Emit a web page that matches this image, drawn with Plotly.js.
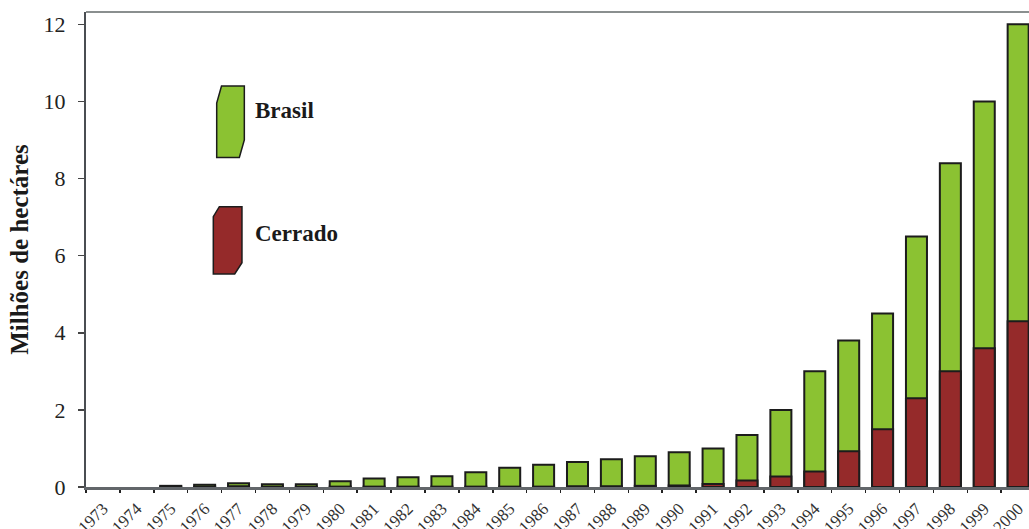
<!DOCTYPE html>
<html>
<head>
<meta charset="utf-8">
<script src="https://cdn.plot.ly/plotly-3.0.1.min.js"></script>
<style>html,body{margin:0;padding:0;background:#fff;}#chart{width:1029px;height:529px;}</style>
</head>
<body>
<div id="chart"></div>
<script>
const years = ['1973','1974','1975','1976','1977','1978','1979','1980','1981','1982','1983','1984','1985','1986','1987','1988','1989','1990','1991','1992','1993','1994','1995','1996','1997','1998','1999','2000'];
const brasil = [null, null, 0.03, 0.06, 0.1, 0.07, 0.07, 0.15, 0.22, 0.25, 0.28, 0.38, 0.5, 0.58, 0.65, 0.72, 0.8, 0.9, 1.0, 1.35, 2.0, 3.0, 3.8, 4.5, 6.5, 8.4, 10.0, 12.0];
const cerrado = [null, null, 0.01, 0.01, 0.02, 0.01, 0.01, 0.01, 0.01, 0.01, 0.01, 0.01, 0.01, 0.01, 0.02, 0.02, 0.03, 0.04, 0.08, 0.17, 0.27, 0.4, 0.93, 1.5, 2.3, 3.0, 3.6, 4.3];
const seriesNames = ['Brasil', 'Cerrado'];
const yTickVals = [0, 2, 4, 6, 8, 10, 12];
const yTitle = 'Milhões de hectáres';

const SERIF = "'Liberation Serif', 'Times New Roman', Times, serif";
const GREEN = '#8bc232', RED = '#952a2a', EDGE = '#1c1c1c';
const W = 1029, H = 529, ML = 86, MR = 0, MT = 12, MB = 42;
const pw = W - ML - MR, ph = H - MT - MB;
const px = x => ((x - ML) / pw).toFixed(4);
const py = y => ((H - MB - y) / ph).toFixed(4);
function poly(pts) {
  return 'M' + pts.map(p => px(p[0]) + ',' + py(p[1])).join(' L') + ' Z';
}

const traces = [
  {type: 'bar', x: years, y: brasil, name: seriesNames[0], width: 0.62,
   marker: {color: GREEN, line: {color: EDGE, width: 2}}},
  {type: 'bar', x: years, y: cerrado, name: seriesNames[1], width: 0.62,
   marker: {color: RED, line: {color: EDGE, width: 2}}}
];

const shapes = [
  {type: 'line', xref: 'paper', yref: 'paper', x0: 0, x1: 1, y0: 1, y1: 1,
   line: {color: '#8a8f8f', width: 2}},
  {type: 'path', xref: 'paper', yref: 'paper', fillcolor: GREEN, line: {color: EDGE, width: 1.5},
   path: poly([[221.5,86],[244.3,86],[244.3,140],[239.3,157.5],[216.7,157.5],[216.7,103],[221.5,86]])},
  {type: 'path', xref: 'paper', yref: 'paper', fillcolor: RED, line: {color: EDGE, width: 1.5},
   path: poly([[219.3,206.7],[242,206.7],[242,262.7],[234.7,274],[213.3,274],[213.3,216.7],[219.3,206.7]])}
];

const annotations = [
  {xref: 'paper', yref: 'paper', x: Number(px(253)), y: Number(py(111)), xanchor: 'left', yanchor: 'middle',
   text: '<b>' + seriesNames[0] + '</b>', showarrow: false,
   font: {family: SERIF, size: 23, color: '#1a1a1a'}},
  {xref: 'paper', yref: 'paper', x: Number(px(253)), y: Number(py(233)), xanchor: 'left', yanchor: 'middle',
   text: '<b>' + seriesNames[1] + '</b>', showarrow: false,
   font: {family: SERIF, size: 23, color: '#1a1a1a'}}
];

const layout = {
  width: W, height: H,
  margin: {l: ML, r: MR, t: MT, b: MB, pad: 0},
  paper_bgcolor: '#fff', plot_bgcolor: '#fff',
  barmode: 'overlay',
  showlegend: false,
  font: {family: SERIF, color: '#222'},
  xaxis: {
    type: 'category', range: [-0.5, 27.32], automargin: false,
    showline: true, linecolor: '#62666a', linewidth: 3,
    ticks: 'outside', tickson: 'boundaries', ticklen: 3, tickwidth: 1.5, tickcolor: '#222',
    tickangle: -45, tickfont: {family: SERIF, size: 17, color: '#333'}, ticklabelstandoff: 2,
    showgrid: false, zeroline: false, fixedrange: true
  },
  yaxis: {
    range: [0, 12.32], automargin: false,
    tickvals: yTickVals, ticktext: yTickVals.map(String),
    showline: true, linecolor: '#4a4e52', linewidth: 2,
    ticks: 'outside', ticklen: 6, tickwidth: 1.5, tickcolor: '#444',
    tickfont: {family: SERIF, size: 22, color: '#222'}, ticklabelstandoff: 8,
    showgrid: false, zeroline: false,
    title: {text: '<b>' + yTitle + '</b>', font: {family: SERIF, size: 25, color: '#1a1a1a'}, standoff: 8},
    fixedrange: true
  },
  shapes: shapes,
  annotations: annotations
};

Plotly.newPlot('chart', traces, layout, {staticPlot: true, displayModeBar: false});
</script>
</body>
</html>
